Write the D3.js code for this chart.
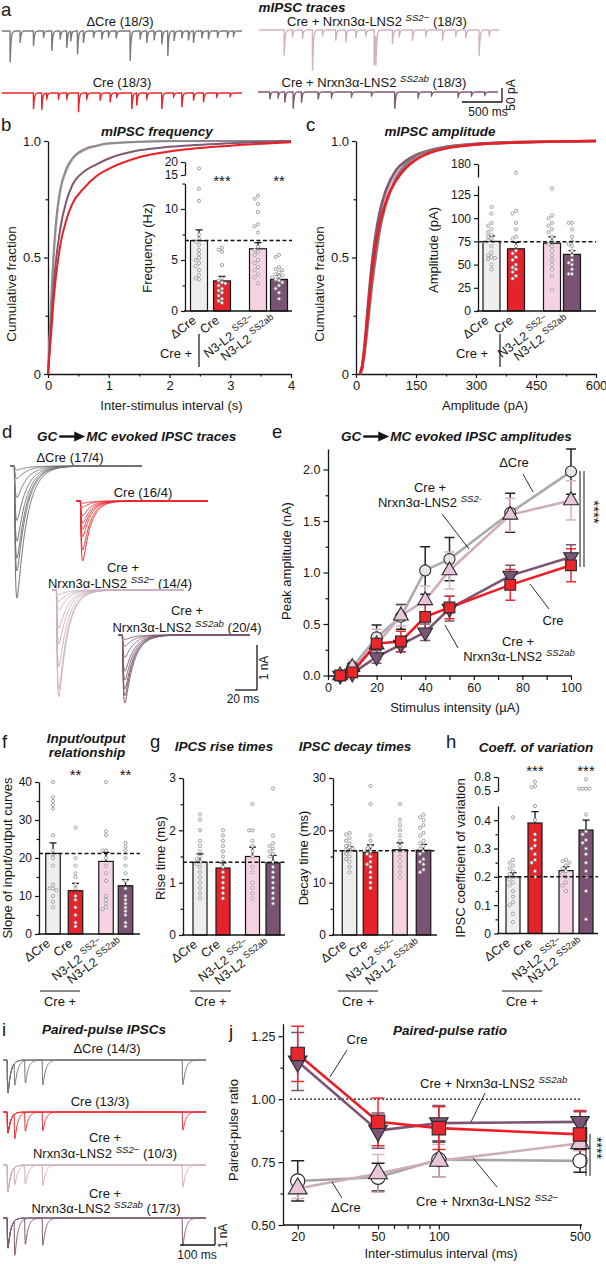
<!DOCTYPE html>
<html><head><meta charset="utf-8">
<script src="https://cdn.jsdelivr.net/npm/d3@7"></script>
<style>body{margin:0;background:#fff}svg{display:block}</style>
</head><body>
<svg id="fig" width="606" height="1264"></svg>
<script>
// ================= DATA =================
const groups = ['ΔCre','Cre','N3-L2 SS2−','N3-L2 SS2ab'];
// panel a: mIPSC events [time ms, amplitude pA]
const evDCre = [[100,113],[225,42],[392,54],[517,24],[621,71],[725,30],[808,60],[858,36],[942,83],[1017,42],[1142,24],[1246,30],[1329,21],[1425,26],[1600,107],[1725,30],[1808,42],[1900,33],[1996,48],[2071,89],[2150,36],[2246,26],[2329,33],[2392,42],[2496,26],[2579,30],[2692,24],[2817,21],[2892,18]];
const evCre = [[392,57],[496,60],[954,69],[1225,27],[1350,33],[1621,57],[1683,45],[1996,57],[2246,51],[2517,33],[558,21],[704,21],[808,21],[1058,21],[1433,15],[1808,21],[2142,15],[2392,27],[2683,15],[2850,13]];
const evSS2m = [[313,92],[667,145],[958,38],[1083,44],[1438,127],[1459,110],[1667,50],[1917,38],[2292,38],[2750,92],[417,26],[542,32],[792,20],[1208,29],[1333,24],[1750,26],[2083,24],[2458,21],[2583,29],[2875,20]];
const evSS2ab = [[146,26],[250,20],[333,38],[438,60],[542,38],[750,26],[917,20],[1167,17],[1417,14],[1708,60],[2000,20],[2167,14],[2500,18],[2667,14],[2833,12]];
// panel b: cumulative inter-event interval [s, fraction]
const cumFreqDCre = [[0,0],[0.05,0.3],[0.1,0.55],[0.15,0.7],[0.2,0.79],[0.3,0.88],[0.4,0.925],[0.6,0.965],[0.8,0.98],[1,0.99],[1.5,0.997],[2,1],[4,1]];
const cumFreqSS2m = [[0,0],[0.05,0.28],[0.1,0.52],[0.15,0.68],[0.2,0.78],[0.3,0.87],[0.4,0.92],[0.6,0.96],[0.8,0.978],[1,0.988],[1.5,0.996],[2,0.999],[4,1]];
const cumFreqSS2ab = [[0,0],[0.05,0.2],[0.1,0.4],[0.2,0.62],[0.3,0.74],[0.4,0.81],[0.6,0.87],[0.8,0.9],[1,0.925],[1.5,0.96],[2,0.975],[3,0.99],[4,1]];
const cumFreqCre = [[0,0],[0.05,0.17],[0.1,0.34],[0.2,0.55],[0.3,0.66],[0.4,0.73],[0.6,0.8],[0.8,0.85],[1,0.88],[1.5,0.93],[2,0.955],[3,0.98],[4,0.995]];
const freqMean = [6.9,2.95,6.1,3.1];
const freqSem = [7.95,3.4,6.7,3.5];
const freqPts = [[17.5,12,10.8,7.5,7.1,6.8,6.5,6,5.6,5.2,5,4.7,4.4,4,3.5,3.2,3.1],[6.2,6,5.8,4.5,3.2,3,2.8,2.5,2.2,2,1.8,1.5,1.2,1,0.8,2.7],[11.3,11,10.5,9.7,8.5,8.3,7.7,6.3,6,5.8,5.5,5,4.7,4.3,4,3.6,3.3,2.7],[5.5,5.3,4.3,4.1,4,3.8,3.6,3.5,3.4,3.3,3.1,3,2.8,2.5,2.2,1.8,1.2]];
// panel c: cumulative amplitude [pA, fraction]
const cumAmpDCre = [[10,0],[15,0.02],[20,0.07],[30,0.22],[40,0.38],[50,0.51],[60,0.62],[75,0.73],[100,0.84],[125,0.9],[150,0.935],[200,0.965],[300,0.985],[450,0.996],[600,1]];
const cumAmpCre = [[10,0],[15,0.03],[20,0.09],[30,0.26],[40,0.43],[50,0.56],[60,0.65],[75,0.74],[100,0.83],[125,0.885],[150,0.92],[200,0.958],[300,0.985],[450,0.996],[600,1]];
const cumAmpSS2m = [[10,0],[15,0.03],[20,0.09],[30,0.27],[40,0.45],[50,0.58],[60,0.68],[75,0.77],[100,0.86],[125,0.905],[150,0.935],[200,0.965],[300,0.987],[450,0.997],[600,1]];
const cumAmpSS2ab = [[10,0],[15,0.03],[20,0.1],[30,0.3],[40,0.48],[50,0.61],[60,0.7],[75,0.79],[100,0.875],[125,0.915],[150,0.94],[200,0.967],[300,0.988],[450,0.997],[600,1]];
const ampMean = [75,67,73,61];
const ampSem = [81,74,80,65];
const ampPts = [[112,105,95,92,88,85,82,80,78,76,70,63,60,58,57,56,50,45],[160,108,105,95,88,80,78,70,65,62,58,55,50,47,45,42,38,35],[132,103,100,95,92,88,85,80,75,72,70,65,60,55,50,45,38,23],[95,95,88,80,75,72,70,65,60,55,52,50,45,40,40]];
// panel d: representative evoked IPSC amplitudes (nA)
const evokedDCre = [2.93,2.33,2.05,1.67,1.21,0.7,0.28,0.09];
const evokedCre = [1.33,1.09,0.79,0.63,0.49,0.33,0.14,0.05];
const evokedSS2m = [2.37,2.2,1.7,1.2,0.85,0.45,0.25,0.1];
const evokedSS2ab = [1.51,1.35,1.2,1.0,0.8,0.5,0.25,0.1];
// panel e: input/output
const stimIntensity = [5,10,20,30,40,50,75,100];
const ioDCre = [0,0.08,0.37,0.57,1.02,1.13,1.58,1.98];
const ioDCreErr = [0.02,0.04,0.12,0.12,0.23,0.21,0.19,0.22];
const ioSS2m = [0,0.08,0.3,0.58,0.73,1.02,1.56,1.7];
const ioSS2mErr = [0.02,0.06,0.15,0.1,0.14,0.18,0.16,0.19];
const ioCre = [0,0.03,0.31,0.33,0.57,0.66,0.88,1.07];
const ioCreErr = [0.02,0.03,0.05,0.1,0.12,0.11,0.15,0.16];
const ioSS2ab = [0,0.02,0.18,0.3,0.42,0.65,0.97,1.15];
const ioSS2abErr = [0.01,0.03,0.06,0.07,0.08,0.12,0.1,0.12];
// panel f
const slopeMean = [21.2,11.4,19.1,12.7];
const slopeSem = [24,13.3,21.5,14.3];
const slopePts = [[40,36,35,34,33,26,22,21,20,18,13,12,12,11.5,10,8.5,7],[28,20,18,16,15,13,12,10,9,7,5,3,2],[40,27,26,22,22,20,18,16,14,10,9,8,7,6.5],[24,23,22,20,18,16,14,12,10,9,8,7,6,5,3,2]];
// panel g
const riseMean = [1.39,1.28,1.5,1.38];
const riseSem = [1.55,1.38,1.68,1.52];
const risePts = [[2.3,2.2,2.0,1.8,1.7,1.6,1.5,1.45,1.4,1.35,1.3,1.2,1.1,1.0,0.9,0.8,0.7],[2.0,1.9,1.8,1.7,1.6,1.5,1.4,1.3,1.2,1.1,1.0,0.9,0.8,0.7],[2.5,2.0,2.0,1.8,1.7,1.6,1.5,1.3,1.2,1.0,0.9,0.8,0.7],[2.8,1.9,1.75,1.7,1.65,1.6,1.55,1.5,1.4,1.3,1.2,1.1,1.0,0.9,0.8,0.7,0.6]];
const decayMean = [16.1,15.8,16.3,16.2];
const decaySem = [16.9,17.2,17.6,17.3];
const decayPts = [[19.5,19.2,18.5,18,17.5,17,16.8,16.5,16.3,16,15.5,15,14.5,14,13,12],[28.5,25,19,18,17,16.5,16,15.5,15,14,13.5,13,12,11,10,9],[25,22,21,20,19,18,17,16,15,14,13,12,11],[23,22.5,22,21,20.5,19.5,19,18,17.5,17,16.5,16,15.5,14.5,14,13.5,12.5,12]];
// panel h
const cvMean = [0.2,0.39,0.222,0.365];
const cvSem = [0.215,0.43,0.236,0.4];
const cvPts = [[0.41,0.26,0.25,0.24,0.23,0.22,0.21,0.2,0.19,0.18,0.17,0.15,0.13,0.11,0.1,0.07,0.04],[0.7,0.6,0.58,0.45,0.4,0.35,0.33,0.31,0.3,0.28,0.26,0.25,0.22,0.2],[0.26,0.255,0.25,0.24,0.23,0.22,0.21,0.2,0.18,0.17,0.15],[0.75,0.55,0.55,0.55,0.55,0.42,0.36,0.35,0.33,0.32,0.3,0.28,0.25,0.22,0.2,0.15,0.05]];
// panel i: first-pulse amplitude (nA)
const ppFirstAmp = [1.83,1.17,1.5,1.67];
// panel j
const ppInterval = [20,50,100,500];
const ppCre = [1.18,0.91,0.885,0.86];
const ppCreErr = [0.11,0.095,0.085,0.095];
const ppSS2ab = [1.15,0.875,0.905,0.91];
const ppSS2abErr = [0.115,0.07,0.07,0.04];
const ppDCre = [0.675,0.69,0.76,0.755];
const ppDCreErr = [0.08,0.055,0.07,0.045];
const ppSS2m = [0.645,0.705,0.755,0.825];
const ppSS2mErr = [0.04,0.075,0.065,0.03];

// ================= STYLE =================
const FONT = '"Liberation Sans", Arial, Helvetica, sans-serif';
const INK = '#161616';
const TRACE = ['#7a7a7a','#ee2328','#d3b2c4','#7f5871'];
const BAR_FILL = ['#eeeeee','#e4232a','#f5d3e5','#7b5372'];
const svg = d3.select('#fig').attr('font-family', FONT);

function txt(g,x,y,s,o={}){
  const t=g.append('text').attr('x',x).attr('y',y).text(s)
    .attr('font-size',o.size||13).attr('text-anchor',o.anchor||'start').attr('fill',o.fill||INK);
  if(o.bold) t.attr('font-weight','bold');
  if(o.italic) t.attr('font-style','italic');
  if(o.rotate!=null) t.attr('transform',`rotate(${o.rotate},${x},${y})`);
  return t;
}
function rich(g,x,y,parts,o={}){
  const t=txt(g,x,y,'',o); const fs=o.size||13; let shift=0;
  parts.forEach(p=>{
    const s=typeof p==='string'?{t:p}:p;
    const ts=t.append('tspan').text(s.t);
    const want=s.sup?-(fs*0.38):0;
    if(want!==shift){ts.attr('dy',want-shift);shift=want;}
    if(s.sup){ts.attr('font-size',fs*0.74); if(s.italic) ts.attr('font-style','italic');}
  });
  return t;
}
function line(g,x1,y1,x2,y2,o={}){
  return g.append('line').attr('x1',x1).attr('y1',y1).attr('x2',x2).attr('y2',y2)
    .attr('stroke',o.color||INK).attr('stroke-width',o.w||1.2).attr('stroke-dasharray',o.dash||null);
}
function styleAxis(a,fs){
  a.attr('font-family',FONT).attr('font-size',fs||12);
  a.selectAll('.domain').attr('stroke',INK).attr('stroke-width',1.3);
  a.selectAll('.tick line').attr('stroke',INK).attr('stroke-width',1.2);
  a.selectAll('.tick text').attr('fill',INK);
  return a;
}
function minor(g,axisFn,vals,size){
  const a=g.append('g').call(axisFn.tickValues(vals).tickSize(size||2.5).tickFormat(''));
  a.select('.domain').remove(); styleAxis(a); return a;
}
const root = svg.append('g');
// panel letters
[['a',1,16],['b',1,131],['c',306,131],['d',2,438],['e',272,438],['f',2,748],['g',150,748],['h',446,748],['i',2,1036],['j',229,1038]]
  .forEach(([l,x,y])=>txt(root,x,y,l,{size:18.5}));

// ================= TRACE HELPERS =================
function kPeak(tr,td){const tp=tr*td/(td-tr)*Math.log(td/tr);return Math.exp(-tp/td)-Math.exp(-tp/tr);}
function tracePath(events,t0,t1,dt,tr,td,xs,ys){
  const n=kPeak(tr,td),pts=[];
  for(let t=t0;t<=t1;t+=dt){let v=0;for(const [te,a] of events){const d=t-te;if(d>0)v+=a*(Math.exp(-d/td)-Math.exp(-d/tr))/n;}pts.push([xs(t),ys(v)]);}
  return d3.line()(pts);
}

// ================= PANEL A =================
txt(root,302,12,'mIPSC traces',{size:13.5,bold:true,italic:true,anchor:'middle'});
txt(root,120,26,'ΔCre (18/3)',{anchor:'middle'});
txt(root,122,87,'Cre (18/3)',{anchor:'middle'});
rich(root,377,26,['Cre + Nrxn3α-LNS2 ',{t:'SS2−',sup:true,italic:true},' (18/3)'],{anchor:'middle'});
rich(root,374,87,['Cre + Nrxn3α-LNS2 ',{t:'SS2ab',sup:true,italic:true},' (18/3)'],{anchor:'middle'});
function drawMini(ev,x0,base,color){
  const xs=d3.scaleLinear([0,3000],[x0,x0+240]);
  const ys=d3.scaleLinear([0,50],[base,base+14]);
  root.append('path').attr('d',tracePath(ev,0,3000,1,0.8,10,xs,ys)).attr('fill','none').attr('stroke',color).attr('stroke-width',1.35);
}
drawMini(evDCre,2,31,TRACE[0]);
drawMini(evCre,2,93,TRACE[1]);
drawMini(evSS2m,259,30,TRACE[2]);
drawMini(evSS2ab,258,92,TRACE[3]);
line(root,462,102,502,102,{w:1.3}); line(root,502,88,502,102,{w:1.3});
txt(root,488,116,'500 ms',{size:12,anchor:'middle'});
txt(root,515,95,'50 pA',{size:12,anchor:'middle',rotate:-90});

// ================= PANELS B, C (cumulative) =================
function cumPanel(cfg){
  const g=root.append('g');
  const xs=d3.scaleLinear(cfg.xd,[cfg.x0,cfg.x1]);
  const ys=d3.scaleLinear([0,1],[374,141]);
  const ax=g.append('g').attr('transform','translate(0,374)').call(d3.axisBottom(xs).tickValues(cfg.xt).tickSize(4).tickSizeOuter(0).tickFormat(d3.format('')));
  styleAxis(ax,13);
  minor(g.append('g').attr('transform','translate(0,374)'),d3.axisBottom(xs),cfg.xm,2.5);
  const ay=g.append('g').attr('transform',`translate(${cfg.x0},0)`).call(d3.axisLeft(ys).tickValues([0,0.5,1]).tickSize(4).tickSizeOuter(0).tickFormat(d=>d===0?'0':d3.format('.1f')(d)));
  styleAxis(ay,13);
  minor(g.append('g').attr('transform',`translate(${cfg.x0},0)`),d3.axisLeft(ys),[0.25,0.75],2.5);
  const ln=d3.line().x(d=>xs(d[0])).y(d=>ys(d[1])).curve(d3.curveMonotoneX);
  cfg.series.forEach(s=>g.append('path').attr('d',ln(s.d)).attr('fill','none').attr('stroke',s.c).attr('stroke-width',cfg.sw));
  txt(g,cfg.ylx,284,'Cumulative fraction',{size:13.5,anchor:'middle',rotate:-90});
  txt(g,(cfg.x0+cfg.x1)/2+cfg.xlOff,410,cfg.xlab,{anchor:'middle'});
  txt(g,cfg.tx,136,cfg.title,{size:13.5,bold:true,italic:true,anchor:'middle'});
}
cumPanel({xd:[0,4],x0:48,x1:291,xt:[0,1,2,3,4],xm:[0.5,1.5,2.5,3.5],sw:2,ylx:16,xlOff:2,xlab:'Inter-stimulus interval (s)',tx:157,title:'mIPSC frequency',
  series:[{d:cumFreqSS2m,c:'#cbb0c2'},{d:cumFreqDCre,c:'#8e8a8e'},{d:cumFreqSS2ab,c:'#7f5871'},{d:cumFreqCre,c:'#ee1c25'}]});
cumPanel({xd:[0,600],x0:356,x1:596,xt:[0,150,300,450,600],xm:[75,225,375,525],sw:2.6,ylx:324,xlOff:9,xlab:'Amplitude (pA)',tx:440,title:'mIPSC amplitude',
  series:[{d:cumAmpSS2m,c:'#d3b2c4'},{d:cumAmpSS2ab,c:'#7f5871'},{d:cumAmpDCre,c:'#7d7d7d'},{d:cumAmpCre,c:'#ee1c25'}]});

// ================= BAR CHARTS =================
const GL = [['ΔCre'],['Cre'],['N3-L2 ',{t:'SS2−',sup:true}],['N3-L2 ',{t:'SS2ab',sup:true}]];
function barChart(c){
  const g=root.append('g');
  const yL=d3.scaleLinear(c.low,c.lowR);
  const yU=c.up?d3.scaleLinear(c.up,c.upR):null;
  const Y=v=>(yU&&v>c.low[1])?yU(v):yL(v);
  const y0=yL(0);
  c.centers.forEach((cx,i)=>{const t=Y(c.mean[i]);
    g.append('rect').attr('x',cx-c.w/2).attr('y',t).attr('width',c.w).attr('height',y0-t).attr('fill',BAR_FILL[i]).attr('stroke',INK).attr('stroke-width',1.2);});
  c.centers.forEach((cx,i)=>{const t=Y(c.mean[i]),e=Y(c.sem[i]);
    g.append('path').attr('d',`M${cx},${t}V${e}M${cx-3.5},${e}H${cx+3.5}`).attr('stroke',INK).attr('stroke-width',1.3).attr('fill','none');});
  c.centers.forEach((cx,i)=>{
    const placed=[];
    [...c.pts[i]].sort((a,b)=>b-a).forEach(v=>{
      const y=Y(v);let off=0;
      for(const o of [0,-3.4,3.4,-6.8,6.8,-10.2,10.2]){if(placed.every(p=>Math.hypot(p[0]-o,p[1]-y)>=3.3)){off=o;break;}}
      placed.push([off,y]);
    });
    placed.forEach(([o,y])=>g.append('circle').attr('cx',cx+o).attr('cy',y).attr('r',1.6).attr('fill','#fff').attr('stroke','#8a8a8a').attr('stroke-width',0.8));
  });
  line(g,c.x0,yL(c.ref),c.xEnd,yL(c.ref),{w:1.5,dash:'4,2.5'});
  const ay=g.append('g').attr('transform',`translate(${c.x0},0)`).call(d3.axisLeft(yL).tickValues(c.ticks).tickSize(4).tickSizeOuter(0).tickFormat(c.fmt||(d=>d)));
  styleAxis(ay,12);
  if(c.minor) minor(g.append('g').attr('transform',`translate(${c.x0},0)`),d3.axisLeft(yL),c.minor,2.5);
  if(yU){const au=g.append('g').attr('transform',`translate(${c.x0},0)`).call(d3.axisLeft(yU).tickValues(c.upTicks).tickSize(4).tickSizeOuter(0).tickFormat(c.fmt||(d=>d)));styleAxis(au,12);}
  line(g,c.x0-1,y0,c.xEnd,y0,{w:1.3});
  if(c.stars) c.centers.forEach((cx,i)=>{if(c.stars[i]) txt(g,cx,c.starY,c.stars[i],{size:15,anchor:'middle'});});
  txt(g,c.ylx,c.yly,c.ylab,{size:c.ylfs||13,anchor:'middle',rotate:-90});
  c.centers.forEach((cx,i)=>rich(g,cx-2,y0+11,GL[i],{size:12.5,anchor:'end',rotate:-37}));
  if(c.creV){txt(g,c.creV[0],358,'Cre +',{anchor:'middle'});line(g,c.creV[1],334,c.creV[1],367,{w:1.2});}
  if(c.creH){line(g,c.creH[0],991,c.creH[1],991,{w:1.2});txt(g,(c.creH[0]+c.creH[1])/2,1006,'Cre +',{anchor:'middle'});}
}
// b inset
barChart({centers:[199,222,258,279],w:17,x0:185,xEnd:292,low:[0,12.5],lowR:[311,183.5],ticks:[0,5,10],minor:[2.5,7.5,12.5],
  up:[15,20],upR:[175,162],upTicks:[15,20],mean:freqMean,sem:freqSem,pts:freqPts,ref:6.9,stars:[null,'***',null,'**'],starY:186,
  ylab:'Frequency (Hz)',ylx:152,yly:248,creV:[176,199]});
// c inset
barChart({centers:[491.5,516,552,572],w:17,x0:478,xEnd:596,low:[0,135],lowR:[311,185.7],ticks:[0,25,50,75,100,125],
  up:[150,180],upR:[177,164],upTicks:[180],mean:ampMean,sem:ampSem,pts:ampPts,ref:74.5,
  ylab:'Amplitude (pA)',ylx:438,yly:250,creV:[472,500]});
// f
barChart({centers:[53,75.5,106,125.5],w:14.5,x0:39,xEnd:140,low:[0,40],lowR:[934,782],ticks:[0,10,20,30,40],minor:[5,15,25,35],
  mean:slopeMean,sem:slopeSem,pts:slopePts,ref:21.2,stars:[null,'**',null,'**'],starY:780,
  ylab:'Slope of input/output curves',ylx:12,yly:858,creH:[40,80]});
// g rise
barChart({centers:[200,223,252.5,273],w:14,x0:183,xEnd:285,low:[0,3],lowR:[935,778],ticks:[0,1,2,3],minor:[0.5,1.5,2.5],
  mean:riseMean,sem:riseSem,pts:risePts,ref:1.39,ylab:'Rise time (ms)',ylx:165,yly:858,creH:[190,231]});
// g decay
barChart({centers:[349.5,370.5,400,423.5],w:14.5,x0:333,xEnd:437,low:[0,30],lowR:[935,778],ticks:[0,10,20,30],minor:[5,15,25],
  mean:decayMean,sem:decaySem,pts:decayPts,ref:16.1,ylab:'Decay time (ms)',ylx:308,yly:858,creH:[338,378]});
// h
barChart({centers:[513,535,566,586],w:14,x0:498,xEnd:598,low:[0,0.45],lowR:[933.5,806],ticks:[0,0.1,0.2,0.3,0.4],minor:[0.05,0.15,0.25,0.35],
  up:[0.5,0.8],upR:[791,777],upTicks:[0.5,0.8],fmt:d=>d===0?'0':d3.format('.1f')(d),mean:cvMean,sem:cvSem,pts:cvPts,ref:0.2,
  stars:[null,'***',null,'***'],starY:776,ylab:'IPSC coefficient of variation',ylx:465,yly:858,creH:[502,542]});
// titles f,g,h
txt(root,86,743,'Input/output',{size:13.5,bold:true,italic:true,anchor:'middle'});
txt(root,87,757,'relationship',{size:13.5,bold:true,italic:true,anchor:'middle'});
txt(root,224,751,'IPCS rise times',{size:13.5,bold:true,italic:true,anchor:'middle'});
txt(root,355,751,'IPSC decay times',{size:13.5,bold:true,italic:true,anchor:'middle'});
txt(root,536,752,'Coeff. of variation',{size:13.5,bold:true,italic:true,anchor:'middle'});

// ================= PANEL D =================
function gcTitle(x,y,rest){
  const t1=txt(root,x,y,'GC',{size:13.5,bold:true,italic:true});
  const ax=x+t1.node().getComputedTextLength()+2;
  line(root,ax,y-4.5,ax+18,y-4.5,{w:2.4});
  root.append('path').attr('d',`M${ax+15},${y-9.5}L${ax+26},${y-4.5}L${ax+15},${y+0.5}Z`).attr('fill',INK);
  txt(root,ax+27,y,rest,{size:13.5,bold:true,italic:true});
}
gcTitle(37,441,'MC evoked IPSC traces');
txt(root,70,462,'ΔCre (17/4)',{anchor:'middle'});
txt(root,143,497,'Cre (16/4)',{anchor:'middle'});
txt(root,123,572,'Cre +',{anchor:'middle'});
rich(root,120,588,['Nrxn3α-LNS2 ',{t:'SS2−',sup:true,italic:true},' (14/4)'],{anchor:'middle'});
txt(root,187,615,'Cre +',{anchor:'middle'});
rich(root,187,632,['Nrxn3α-LNS2 ',{t:'SS2ab',sup:true,italic:true},' (20/4)'],{anchor:'middle'});
function drawEvoked(amps,x0,base,color,td){
  const xs=d3.scaleLinear([0,120],[x0,x0+132]);
  const ys=d3.scaleLinear([0,1],[base,base+45]);
  amps.forEach(a=>root.append('path').attr('d',tracePath([[4,a]],0,120,0.25,0.9,td,xs,ys)).attr('fill','none').attr('stroke',color).attr('stroke-width',1));
}
drawEvoked(evokedDCre,10,466,'#727272',9);
drawEvoked(evokedCre,76,501,'#ef2b2f',7);
drawEvoked(evokedSS2m,52,590,'#cdb0c1',8);
drawEvoked(evokedSS2ab,118,635,'#7d5a72',8);
line(root,235,690,257,690,{w:1.3}); line(root,257,645,257,690,{w:1.3});
txt(root,243,703,'20 ms',{size:12,anchor:'middle'});
txt(root,268,668,'1 nA',{size:12,anchor:'middle',rotate:-90});

// ================= PANEL E =================
const xE=d3.scaleLinear([0,100],[328,571]);
const yE=d3.scaleLinear([0,2.2],[675.5,448.9]);
gcTitle(341,441,'MC evoked IPSC amplitudes');
function drawSeries(g,xs,ys,xv,S,o){
  const ln=d3.line().x((d,i)=>xs(xv[i])).y(d=>ys(d));
  S.forEach(s=>g.append('path').attr('d',ln(s.y)).attr('fill','none').attr('stroke',s.lc).attr('stroke-width',o.lw));
  S.forEach(s=>s.y.forEach((v,i)=>{const x=xs(xv[i]),t=ys(v+s.e[i]),b=ys(v-s.e[i]);
    g.append('path').attr('d',`M${x},${t}V${b}M${x-o.cap},${t}H${x+o.cap}M${x-o.cap},${b}H${x+o.cap}`).attr('stroke',s.ec).attr('stroke-width',1.5).attr('fill','none');}));
  const types={c:d3.symbolCircle,s:d3.symbolSquare,u:d3.symbolTriangle,d:d3.symbolTriangle};
  S.forEach(s=>s.y.forEach((v,i)=>{
    const x=xs(xv[i]),y=ys(v);
    g.append('path').attr('d',d3.symbol().type(types[s.sym]).size(o.size[s.sym])())
      .attr('transform',`translate(${x},${y})`+(s.sym==='d'?' rotate(180)':''))
      .attr('fill',s.fill).attr('stroke','#2a2a2a').attr('stroke-width',1.1);
  }));
}
{
  const g=root.append('g');
  const ax=g.append('g').attr('transform','translate(0,675.5)').call(d3.axisBottom(xE).tickValues([0,20,40,60,80,100]).tickSize(4.5).tickSizeOuter(0));
  styleAxis(ax,12.5);
  minor(g.append('g').attr('transform','translate(0,675.5)'),d3.axisBottom(xE),[10,30,50,70,90],4.5);
  const ay=g.append('g').attr('transform','translate(328,0)').call(d3.axisLeft(yE).tickValues([0,0.5,1,1.5,2]).tickSize(4.5).tickSizeOuter(0).tickFormat(d3.format('.1f')));
  styleAxis(ay,12.5);
  minor(g.append('g').attr('transform','translate(328,0)'),d3.axisLeft(yE),[0.25,0.75,1.25,1.75],2.5);
  txt(g,291,561,'Peak amplitude (nA)',{anchor:'middle',rotate:-90});
  txt(g,455,712,'Stimulus intensity (µA)',{anchor:'middle'});
  const S=[
    {y:ioDCre,e:ioDCreErr,lc:'#aaaaaa',ec:'#222',fill:'#e6e6e6',sym:'c'},
    {y:ioSS2m,e:ioSS2mErr,lc:'#cfabc0',ec:'#d6b3c7',fill:'#eac4db',sym:'u'},
    {y:ioSS2ab,e:ioSS2abErr,lc:'#7d5574',ec:'#7d5574',fill:'#7d5574',sym:'d'},
    {y:ioCre,e:ioCreErr,lc:'#ee1c25',ec:'#ee2a30',fill:'#e8262b',sym:'s'}];
  drawSeries(g,xE,yE,stimIntensity,S,{lw:2.6,cap:5,size:{c:96,s:115,u:95,d:95}});
  txt(g,514,467,'ΔCre',{anchor:'middle'}); line(g,523,474,533,492,{w:0.9});
  txt(g,430,492,'Cre +',{anchor:'middle'});
  rich(g,430,507,['Nrxn3α-LNS2 ',{t:'SS2-',sup:true,italic:true}],{anchor:'middle'}); line(g,442,514,469,549,{w:0.9});
  txt(g,553,625,'Cre',{anchor:'middle'}); line(g,530,584,549,609,{w:0.9});
  txt(g,518,646,'Cre +',{anchor:'middle'});
  rich(g,519,661,['Nrxn3α-LNS2 ',{t:'SS2ab',sup:true,italic:true}],{anchor:'middle'}); line(g,445,625,458,648,{w:0.9});
  line(g,580,471,580,567,{w:1}); line(g,584,471,584,567,{w:1});
  txt(g,589,512,'****',{size:15,anchor:'middle',rotate:90});
}

// ================= PANEL I =================
txt(root,104,1034,'Paired-pulse IPSCs',{size:13.5,bold:true,italic:true,anchor:'middle'});
txt(root,107,1053,'ΔCre (14/3)',{anchor:'middle'});
txt(root,100,1106,'Cre (13/3)',{anchor:'middle'});
txt(root,105,1142,'Cre +',{anchor:'middle'});
rich(root,105,1158,['Nrxn3α-LNS2 ',{t:'SS2−',sup:true,italic:true},' (10/3)'],{anchor:'middle'});
txt(root,105,1198,'Cre +',{anchor:'middle'});
rich(root,106,1213,['Nrxn3α-LNS2 ',{t:'SS2ab',sup:true,italic:true},' (17/3)'],{anchor:'middle'});
function drawPP(A1,ppr,x0,base,color){
  const xs=d3.scaleLinear([0,580],[x0,x0+203]);
  const ys=d3.scaleLinear([0,1],[base,base+18]);
  ppInterval.forEach((iv,k)=>root.append('path').attr('d',tracePath([[12,A1],[12+iv,A1*ppr[k]]],0,580,0.5,0.8,8,xs,ys)).attr('fill','none').attr('stroke',color).attr('stroke-width',1));
}
drawPP(ppFirstAmp[0],ppDCre,3,1060,'#767676');
drawPP(ppFirstAmp[1],ppCre,3,1112,'#ef2b2f');
drawPP(ppFirstAmp[2],ppSS2m,3,1165,'#cdb0c1');
drawPP(ppFirstAmp[3],ppSS2ab,3,1218,'#7d5a72');
line(root,180,1245,215,1245,{w:1.3}); line(root,215,1227,215,1245,{w:1.3});
txt(root,197,1259,'100 ms',{size:12,anchor:'middle'});
txt(root,227,1236,'1 nA',{size:12,anchor:'middle',rotate:-90});

// ================= PANEL J =================
{
  const g=root.append('g');
  const xJ=d3.scaleLog([20,500],[297.7,580]);
  const yJ=d3.scaleLinear([0.5,1.3],[1225,1023.7]);
  txt(g,450,1035,'Paired-pulse ratio',{size:13.5,bold:true,italic:true,anchor:'middle'});
  line(g,283,1225,582,1225,{w:1.3});
  const ax=g.append('g').attr('transform','translate(0,1225)').call(d3.axisBottom(xJ).tickValues([20,50,100,500]).tickSize(4.5).tickFormat(d3.format('')));
  ax.select('.domain').remove(); styleAxis(ax,12.5);
  minor(g.append('g').attr('transform','translate(0,1225)'),d3.axisBottom(xJ),[30,40,60,70,80,90],4);
  const ay=g.append('g').attr('transform','translate(283,0)').call(d3.axisLeft(yJ).tickValues([0.5,0.75,1,1.25]).tickSize(4.5).tickSizeOuter(0).tickFormat(d3.format('.2f')));
  styleAxis(ay,12.5);
  minor(g.append('g').attr('transform','translate(283,0)'),d3.axisLeft(yJ),[0.625,0.875,1.125],2.5);
  txt(g,238,1130,'Paired-pulse ratio',{anchor:'middle',rotate:-90});
  txt(g,441,1258,'Inter-stimulus interval (ms)',{anchor:'middle'});
  line(g,290,yJ(1),580,yJ(1),{w:1.2,dash:'2,2'});
  const S=[
    {y:ppDCre,e:ppDCreErr,lc:'#a5a5a5',ec:'#222',fill:'#ffffff',sym:'c'},
    {y:ppSS2m,e:ppSS2mErr,lc:'#cfabc0',ec:'#d6b3c7',fill:'#eac4db',sym:'u'},
    {y:ppSS2ab,e:ppSS2abErr,lc:'#7d5574',ec:'#7d5574',fill:'#7d5574',sym:'d'},
    {y:ppCre,e:ppCreErr,lc:'#ee1c25',ec:'#ee2a30',fill:'#e8262b',sym:'s'}];
  drawSeries(g,xJ,yJ,ppInterval,S,{lw:2.6,cap:6.5,size:{c:160,s:180,u:150,d:150}});
  txt(g,357,1044,'Cre',{anchor:'middle'}); line(g,347,1050,330,1077,{w:0.9});
  rich(g,420,1088,['Cre + Nrxn3α-LNS2 ',{t:'SS2ab',sup:true,italic:true}]); line(g,485,1093,471,1122,{w:0.9});
  rich(g,416,1206,['Cre + Nrxn3α-LNS2 ',{t:'SS2−',sup:true,italic:true}]); line(g,497,1187,473,1158,{w:0.9});
  txt(g,331,1212,'ΔCre'); line(g,342,1198,332,1182,{w:0.9});
  line(g,586,1120,586,1176,{w:1}); line(g,590,1134,590,1176,{w:1});
  txt(g,592,1148,'****',{size:14,anchor:'middle',rotate:90});
}
</script></body></html>
